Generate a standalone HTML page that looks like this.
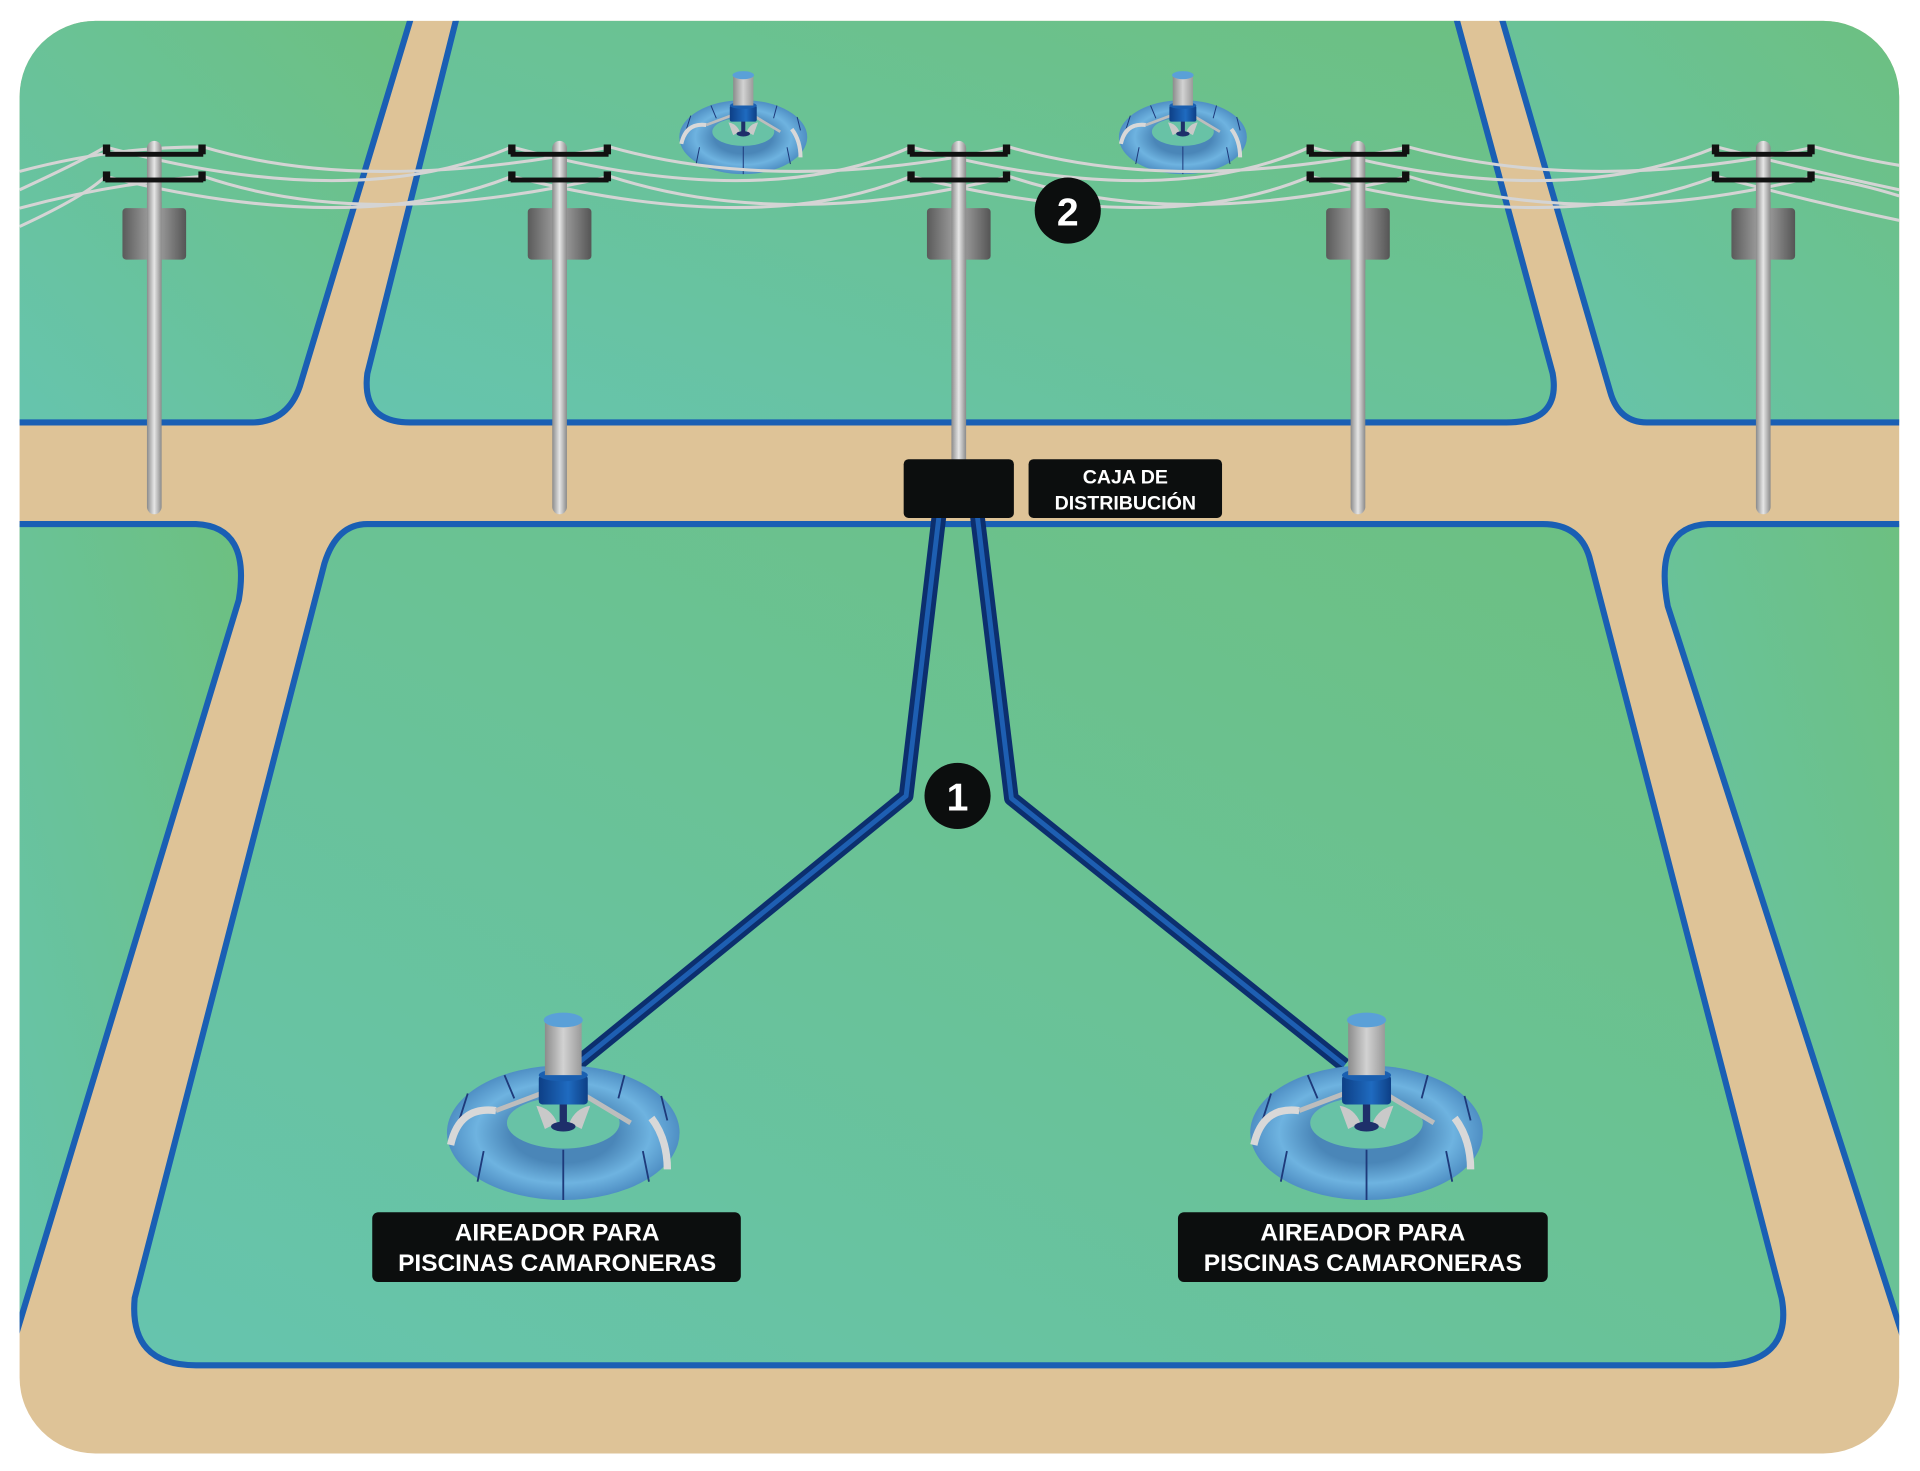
<!DOCTYPE html>
<html><head><meta charset="utf-8"><style>
html,body{margin:0;padding:0;background:#fff}
svg{display:block}
</style></head><body>
<svg width="1920" height="1471" viewBox="0 0 1568 1201.3" preserveAspectRatio="none" xmlns="http://www.w3.org/2000/svg">
<defs>
<clipPath id="clip"><rect x="16" y="17" width="1535" height="1170" rx="62"/></clipPath>
<linearGradient id="pond" x1="0" y1="1" x2="1" y2="0">
<stop offset="0" stop-color="#66c4ae"/><stop offset="1" stop-color="#6dc080"/></linearGradient>
<linearGradient id="poleg" x1="0" x2="1"><stop offset="0" stop-color="#8a8a8a"/><stop offset="0.5" stop-color="#e6e6e6"/><stop offset="1" stop-color="#8a8a8a"/></linearGradient>
<linearGradient id="trans" x1="0" x2="1"><stop offset="0" stop-color="#5a5a5a"/><stop offset="0.5" stop-color="#a8a8a8"/><stop offset="1" stop-color="#555"/></linearGradient>
<linearGradient id="cyl" x1="0" x2="1"><stop offset="0" stop-color="#8c8c8c"/><stop offset="0.5" stop-color="#d2d2d2"/><stop offset="1" stop-color="#9a9a9a"/></linearGradient>
<linearGradient id="col" x1="0" x2="1"><stop offset="0" stop-color="#0d3f86"/><stop offset="0.6" stop-color="#1f6bc0"/><stop offset="1" stop-color="#0d3f86"/></linearGradient>
<radialGradient id="torus" cx="0.5" cy="0.5" r="0.5"><stop offset="0.45" stop-color="#4a86b8"/><stop offset="0.75" stop-color="#6eb3e0"/><stop offset="1" stop-color="#4f8fc4"/></radialGradient>
<g id="aer">
<ellipse cx="0" cy="0" rx="95" ry="55" fill="url(#torus)"/>
<ellipse cx="0" cy="-8" rx="46" ry="21" fill="#68c2a6"/>
<path d="M-78,-32 L-85,-10 M-48,-47 L-40,-28 M50,-47 L45,-28 M80,-30 L85,-10 M0,14 L0,55 M-70,40 L-65,15 M70,40 L65,15" stroke="#1e3a7a" stroke-width="1.5" fill="none"/>
<path d="M-92,10 Q-85,-22 -55,-18" stroke="#d8d8d8" stroke-width="6" fill="none"/>
<path d="M72,-12 Q85,5 85,30" stroke="#d8d8d8" stroke-width="6" fill="none"/>
<path d="M-55,-18 L-10,-35 M10,-35 L55,-8" stroke="#bdbdbd" stroke-width="4"/>
<path d="M-15,-3 L-22,-22 Q-10,-20 -5,-8 Z M15,-3 L22,-22 Q10,-20 5,-8 Z" fill="#c9c9c9"/>
<rect x="-3" y="-35" width="6" height="30" fill="#1e2f6a"/>
<ellipse cx="0" cy="-5" rx="10" ry="4" fill="#1e2f6a"/>
<rect x="-20" y="-47" width="40" height="24" rx="3" fill="url(#col)"/>
<ellipse cx="0" cy="-47" rx="20" ry="5" fill="#1a5fb0"/>
<rect x="-15" y="-92" width="30" height="45" fill="url(#cyl)"/>
<ellipse cx="0" cy="-92" rx="16" ry="6" fill="#5aa0d8"/>
</g>
<g id="polegrp">
<rect x="-6" y="0" width="12" height="305" rx="6" fill="url(#poleg)"/>
<rect x="-26" y="55" width="52" height="42" rx="3" fill="url(#trans)"/>
<rect x="-6" y="50" width="12" height="55" fill="url(#poleg)"/>
<rect x="-40" y="9" width="80" height="4" fill="#111"/>
<rect x="-40" y="30" width="80" height="4" fill="#111"/>
<rect x="-42" y="3" width="6" height="8" fill="#111"/><rect x="36" y="3" width="6" height="8" fill="#111"/>
<rect x="-42" y="25" width="6" height="8" fill="#111"/><rect x="36" y="25" width="6" height="8" fill="#111"/>
</g>
</defs>
<rect x="16" y="17" width="1535" height="1170" rx="62" fill="#dec397"/>
<g clip-path="url(#clip)">
<g stroke="#1a5fb4" stroke-width="5" fill="url(#pond)">
<path d="M10,10 L337,10 L245,315 Q235,345 205,345 L10,345 Z"/>
<path d="M374,10 L1188,10 L1268,305 Q1275,345 1230,345 L335,345 Q295,345 300,305 Z"/>
<path d="M1225,10 L1560,10 L1560,345 L1345,345 Q1322,345 1315,320 Z"/>
<path d="M300,428 L1260,428 Q1290,428 1298,455 L1455,1060 Q1465,1115 1400,1115 L160,1115 Q105,1115 110,1060 L265,460 Q275,428 300,428 Z"/>
<path d="M10,428 L160,428 Q205,430 195,490 L10,1100 Z"/>
<path d="M1560,428 L1395,428 Q1350,430 1362,495 L1560,1110 Z"/>
</g>
<use href="#aer" transform="translate(607,112) scale(0.55)"/>
<use href="#aer" transform="translate(966,112) scale(0.55)"/>
<g fill="none" stroke="#d4d4d4" stroke-width="2.5">
<path d="M16,155 Q70,130 86,120 Q290,175 418,120 Q620,175 744,120 Q950,175 1070,120 Q1270,175 1402,120 Q1480,140 1551,155"/>
<path d="M16,140 Q90,120 166,120 Q300,160 498,120 Q640,160 824,120 Q960,160 1150,120 Q1300,160 1482,120 Q1520,130 1551,135"/>
<path d="M16,185 Q70,160 86,144 Q290,195 418,144 Q620,195 744,144 Q950,195 1070,144 Q1270,195 1402,144 Q1480,165 1551,180"/>
<path d="M16,170 Q90,150 166,144 Q300,190 498,144 Q640,190 824,144 Q960,190 1150,144 Q1300,190 1482,144 Q1520,150 1551,160"/>
</g>
</g>
<use href="#polegrp" transform="translate(126,115)"/>
<use href="#polegrp" transform="translate(457,115)"/>
<use href="#polegrp" transform="translate(783,115)"/>
<use href="#polegrp" transform="translate(1109,115)"/>
<use href="#polegrp" transform="translate(1440,115)"/>
<g fill="none" stroke-linejoin="round">
<path d="M767,420 L740,650 L470,870" stroke="#0c2f6e" stroke-width="12"/>
<path d="M767,420 L740,650 L470,870" stroke="#1e5fb2" stroke-width="4"/>
<path d="M798,420 L826,652 L1098,870" stroke="#0c2f6e" stroke-width="12"/>
<path d="M798,420 L826,652 L1098,870" stroke="#1e5fb2" stroke-width="4"/>
</g>
<rect x="738" y="375" width="90" height="48" rx="4" fill="#0c0e0e"/>
<rect x="840" y="375" width="158" height="48" rx="4" fill="#0c0e0e"/>
<text x="919" y="395" font-family="Liberation Sans, sans-serif" font-weight="bold" font-size="16" fill="#fff" text-anchor="middle">CAJA DE</text>
<text x="919" y="416" font-family="Liberation Sans, sans-serif" font-weight="bold" font-size="16" fill="#fff" text-anchor="middle">DISTRIBUCIÓN</text>
<use href="#aer" transform="translate(460,925)"/>
<use href="#aer" transform="translate(1116,925)"/>
<circle cx="782" cy="650" r="27" fill="#0c0e0e"/>
<text x="782" y="662" font-family="Liberation Sans, sans-serif" font-weight="bold" font-size="32" fill="#fff" text-anchor="middle">1</text>
<circle cx="872" cy="172" r="27" fill="#0c0e0e"/>
<text x="872" y="184" font-family="Liberation Sans, sans-serif" font-weight="bold" font-size="32" fill="#fff" text-anchor="middle">2</text>
<rect x="304" y="990" width="301" height="57" rx="5" fill="#0c0e0e"/>
<rect x="962" y="990" width="302" height="57" rx="5" fill="#0c0e0e"/>
<g font-family="Liberation Sans, sans-serif" font-weight="bold" font-size="20" fill="#fff" text-anchor="middle">
<text x="455" y="1013">AIREADOR PARA</text><text x="455" y="1038">PISCINAS CAMARONERAS</text>
<text x="1113" y="1013">AIREADOR PARA</text><text x="1113" y="1038">PISCINAS CAMARONERAS</text>
</g>
</svg>
</body></html>
